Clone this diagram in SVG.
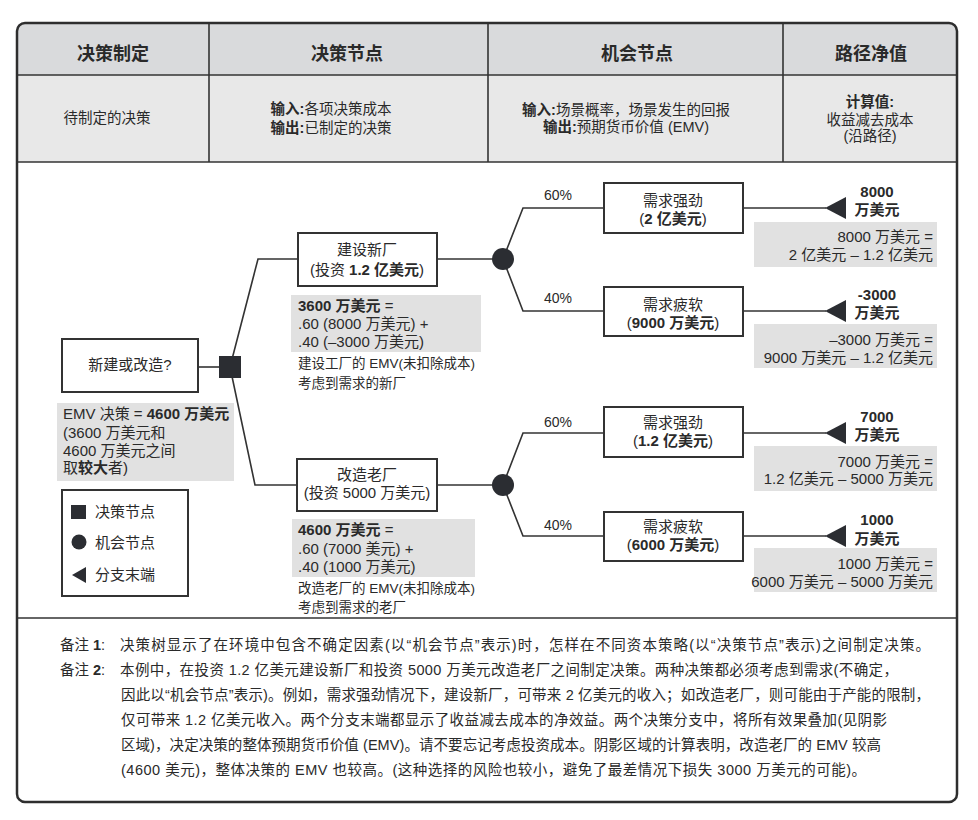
<svg xmlns="http://www.w3.org/2000/svg" width="978" height="820" viewBox="0 0 978 820">
<style>
text { font-family: "Liberation Sans", "Noto Sans CJK SC", sans-serif; fill: #2a2a2a; }
.h { font-size: 18px; font-weight: bold; text-anchor: middle; }
.r { font-size: 14.5px; }
.m { text-anchor: middle; }
.e { text-anchor: end; }
.b { font-weight: bold; }
.f15 { font-size: 15px; }
.f14 { font-size: 14px; }
.f13 { font-size: 13.5px; }
.box { fill: #fff; stroke: #333; stroke-width: 2; }
.gray { fill: #e1e1e1; }
.dark { fill: #2b2d32; }
.conn { fill: none; stroke: #333; stroke-width: 1.6; }
.rule { stroke: #333; stroke-width: 1.6; }
</style>

<g id="frame">
  <rect x="17" y="23" width="940" height="779" rx="8" fill="#fff"/>
  <path d="M17,75 V31 Q17,23 25,23 H949 Q957,23 957,31 V75 Z" fill="#d9dadc"/>
  <rect x="17" y="75" width="940" height="87" fill="#e8e8e8"/>
  <line class="rule" x1="17" y1="75" x2="957" y2="75" stroke-width="2"/>
  <line class="rule" x1="17" y1="162" x2="957" y2="162" stroke-width="2"/>
  <line class="rule" x1="209" y1="23" x2="209" y2="162"/>
  <line class="rule" x1="488" y1="23" x2="488" y2="162"/>
  <line class="rule" x1="783" y1="23" x2="783" y2="162"/>
  <line class="rule" x1="17" y1="618" x2="957" y2="618"/>
  <rect x="17" y="23" width="940" height="779" rx="8" fill="none" stroke="#2e2e2e" stroke-width="2.5"/>
</g>

<g id="header">
  <text class="h" x="113" y="60">决策制定</text>
  <text class="h" x="347" y="60">决策节点</text>
  <text class="h" x="637" y="60">机会节点</text>
  <text class="h" x="871" y="60">路径净值</text>
  <text class="r m" x="107" y="123">待制定的决策</text>
  <text class="r m" x="331" y="114"><tspan class="b">输入:</tspan>各项决策成本</text>
  <text class="r m" x="331" y="133"><tspan class="b">输出:</tspan>已制定的决策</text>
  <text class="r m" x="626" y="115"><tspan class="b">输入:</tspan>场景概率，场景发生的回报</text>
  <text class="r m" x="626" y="132"><tspan class="b">输出:</tspan>预期货币价值 (EMV)</text>
  <text class="r m b" x="870" y="107">计算值:</text>
  <text class="r m" x="870" y="125">收益减去成本</text>
  <text class="r m" x="870" y="141">(沿路径)</text>
</g>

<g id="connectors">
  <path class="conn" d="M198,367 H230"/>
  <path class="conn" d="M230,367 L258,259 H298"/>
  <path class="conn" d="M230,367 L255,485 H297"/>
  <path class="conn" d="M437,259 H503"/>
  <path class="conn" d="M437,485 H503"/>
  <path class="conn" d="M503,259 L523,208 H604"/>
  <path class="conn" d="M503,259 L523,311 H604"/>
  <path class="conn" d="M503,485 L523,433 H604"/>
  <path class="conn" d="M503,485 L523,536 H604"/>
  <path class="conn" d="M743,208 H826"/>
  <path class="conn" d="M743,311 H826"/>
  <path class="conn" d="M743,433 H826"/>
  <path class="conn" d="M743,536 H826"/>
</g>

<g id="decision-question">
  <rect class="box" x="62" y="339" width="136" height="53"/>
  <text class="f15 m" x="130" y="370">新建或改造?</text>
</g>

<g id="decision-node">
  <rect class="dark" x="219" y="356" width="22" height="22"/>
</g>

<g id="emv-decision">
  <rect class="gray" x="57" y="403" width="177" height="78"/>
  <text class="f15" x="63" y="419">EMV 决策 = <tspan class="b">4600 万美元</tspan></text>
  <text class="f15" x="63" y="438">(3600 万美元和</text>
  <text class="f15" x="63" y="456">4600 万美元之间</text>
  <text class="f15" x="63" y="473">取<tspan class="b">较大</tspan>者)</text>
</g>

<g id="legend">
  <rect class="box" x="62" y="490" width="126" height="106"/>
  <rect class="dark" x="71" y="505" width="15" height="14"/>
  <text class="f15" x="95" y="517">决策节点</text>
  <circle class="dark" cx="79" cy="542" r="7.5"/>
  <text class="f15" x="95" y="548">机会节点</text>
  <path class="dark" d="M72,575 L86,567 V583 Z"/>
  <text class="f15" x="95" y="580">分支末端</text>
</g>

<g id="build-new">
  <rect class="box" x="298" y="233" width="139" height="53"/>
  <text class="f15 m" x="367" y="255">建设新厂</text>
  <text class="f15 m" x="367" y="275">(投资 <tspan class="b">1.2 亿美元</tspan>)</text>
</g>

<g id="emv-new">
  <rect class="gray" x="291" y="295" width="190" height="57"/>
  <text class="f15" x="298" y="311"><tspan class="b">3600 万美元</tspan> =</text>
  <text class="f15" x="298" y="329">.60 (8000 万美元) +</text>
  <text class="f15" x="298" y="347">.40 (–3000 万美元)</text>
  <text class="f13" x="298" y="368">建设工厂的 EMV(未扣除成本)</text>
  <text class="f13" x="298" y="388">考虑到需求的新厂</text>
</g>

<g id="renovate-old">
  <rect class="box" x="297" y="459" width="140" height="52"/>
  <text class="f15 m" x="367" y="480">改造老厂</text>
  <text class="f15 m" x="367" y="498">(投资 5000 万美元)</text>
</g>

<g id="emv-old">
  <rect class="gray" x="292" y="519" width="183" height="58"/>
  <text class="f15" x="298" y="535"><tspan class="b">4600 万美元</tspan> =</text>
  <text class="f15" x="298" y="554">.60 (7000 美元) +</text>
  <text class="f15" x="298" y="572">.40 (1000 万美元)</text>
  <text class="f13" x="298" y="593">改造老厂的 EMV(未扣除成本)</text>
  <text class="f13" x="298" y="612">考虑到需求的老厂</text>
</g>

<g id="chance-new">
  <circle class="dark" cx="503" cy="259" r="11"/>
  <text class="f14 m" x="558" y="200">60%</text>
  <text class="f14 m" x="558" y="303">40%</text>
</g>

<g id="chance-old">
  <circle class="dark" cx="503" cy="485" r="11"/>
  <text class="f14 m" x="558" y="427">60%</text>
  <text class="f14 m" x="558" y="530">40%</text>
</g>

<g id="new-strong">
  <rect class="box" x="604" y="183" width="139" height="50"/>
  <text class="f15 m" x="673" y="206">需求强劲</text>
  <text class="f15 m" x="673" y="224">(<tspan class="b">2 亿美元</tspan>)</text>
</g>

<g id="new-weak">
  <rect class="box" x="604" y="287" width="139" height="49"/>
  <text class="f15 m" x="673" y="310">需求疲软</text>
  <text class="f15 m" x="673" y="328">(<tspan class="b">9000 万美元</tspan>)</text>
</g>

<g id="old-strong">
  <rect class="box" x="604" y="407" width="139" height="50"/>
  <text class="f15 m" x="673" y="428">需求强劲</text>
  <text class="f15 m" x="673" y="446">(<tspan class="b">1.2 亿美元</tspan>)</text>
</g>

<g id="old-weak">
  <rect class="box" x="604" y="512" width="139" height="49"/>
  <text class="f15 m" x="673" y="532">需求疲软</text>
  <text class="f15 m" x="673" y="550">(<tspan class="b">6000 万美元</tspan>)</text>
</g>

<g id="end-1">
  <path class="dark" d="M825,208 L846,197 V219 Z"/>
  <text class="f15 m b" x="877" y="197">8000</text>
  <text class="f15 m b" x="877" y="215">万美元</text>
  <rect class="gray" x="754" y="222" width="183" height="45"/>
  <text class="f15 e" x="933" y="242">8000 万美元 =</text>
  <text class="f15 e" x="933" y="260">2 亿美元 – 1.2 亿美元</text>
</g>

<g id="end-2">
  <path class="dark" d="M825,311 L846,300 V322 Z"/>
  <text class="f15 m b" x="877" y="300">-3000</text>
  <text class="f15 m b" x="877" y="318">万美元</text>
  <rect class="gray" x="754" y="324" width="183" height="44"/>
  <text class="f15 e" x="933" y="345">–3000 万美元 =</text>
  <text class="f15 e" x="933" y="363">9000 万美元 – 1.2 亿美元</text>
</g>

<g id="end-3">
  <path class="dark" d="M825,433 L846,422 V444 Z"/>
  <text class="f15 m b" x="877" y="422">7000</text>
  <text class="f15 m b" x="877" y="440">万美元</text>
  <rect class="gray" x="754" y="446" width="183" height="45"/>
  <text class="f15 e" x="933" y="467">7000 万美元 =</text>
  <text class="f15 e" x="933" y="484">1.2 亿美元 – 5000 万美元</text>
</g>

<g id="end-4">
  <path class="dark" d="M825,536 L846,525 V547 Z"/>
  <text class="f15 m b" x="877" y="525">1000</text>
  <text class="f15 m b" x="877" y="544">万美元</text>
  <rect class="gray" x="754" y="548" width="183" height="44"/>
  <text class="f15 e" x="933" y="569">1000 万美元 =</text>
  <text class="f15 e" x="933" y="587">6000 万美元 – 5000 万美元</text>
</g>

<g id="notes">
  <text class="r" x="60" y="650">备注<tspan class="b"> 1</tspan>:</text>
  <text class="r" x="120" y="650" textLength="810" lengthAdjust="spacing">决策树显示了在环境中包含不确定因素(以“机会节点”表示)时，怎样在不同资本策略(以“决策节点”表示)之间制定决策。</text>
  <text class="r" x="60" y="675">备注<tspan class="b"> 2</tspan>:</text>
  <text class="r" x="120" y="675" textLength="778" lengthAdjust="spacing">本例中，在投资 1.2 亿美元建设新厂和投资 5000 万美元改造老厂之间制定决策。两种决策都必须考虑到需求(不确定，</text>
  <text class="r" x="121" y="700" textLength="809" lengthAdjust="spacing">因此以“机会节点”表示)。例如，需求强劲情况下，建设新厂，可带来 2 亿美元的收入；如改造老厂，则可能由于产能的限制，</text>
  <text class="r" x="121" y="725" textLength="766" lengthAdjust="spacing">仅可带来 1.2 亿美元收入。两个分支末端都显示了收益减去成本的净效益。两个决策分支中，将所有效果叠加(见阴影</text>
  <text class="r" x="121" y="750" textLength="760" lengthAdjust="spacing">区域)，决定决策的整体预期货币价值 (EMV)。请不要忘记考虑投资成本。阴影区域的计算表明，改造老厂的 EMV 较高</text>
  <text class="r" x="121" y="775" textLength="745" lengthAdjust="spacing">(4600 美元)，整体决策的 EMV 也较高。(这种选择的风险也较小，避免了最差情况下损失 3000 万美元的可能)。</text>
</g>
</svg>
